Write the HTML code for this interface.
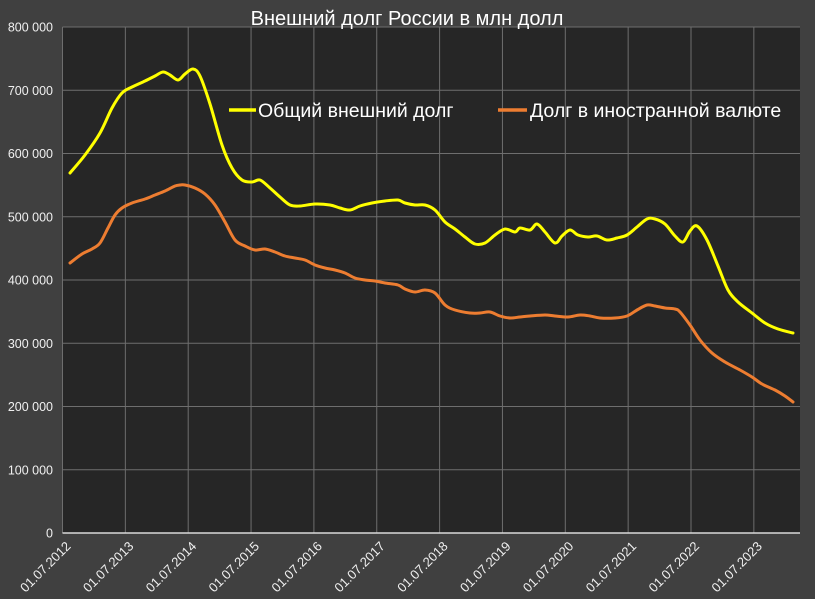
<!DOCTYPE html><html><head><meta charset="utf-8"><style>
body{margin:0;background:#404040;}
svg{display:block;font-family:"Liberation Sans","DejaVu Sans",sans-serif;}
</style></head><body>
<svg id="s" width="815" height="599" viewBox="0 0 815 599">
<rect width="815" height="599" fill="#404040"/>
<rect x="62.5" y="27" width="737.5" height="506" fill="#262626"/>
<g id="grid" stroke="#6e6e6e" stroke-width="1"></g>
<line x1="62.5" y1="533" x2="800" y2="533" stroke="#d9d9d9" stroke-width="1.5"/>
<g id="lab" fill="#f0f0f0" font-size="12.5"></g>
<text x="407" y="25" fill="#ffffff" font-size="20" text-anchor="middle">Внешний долг России в млн долл</text>
<line x1="229" y1="110" x2="256" y2="110" stroke="#ffff00" stroke-width="3.5"/>
<text x="258" y="117" fill="#fff" font-size="19.5">Общий внешний долг</text>
<line x1="498" y1="110" x2="527" y2="110" stroke="#ed7d31" stroke-width="3.5"/>
<text x="530" y="117" fill="#fff" font-size="19.5">Долг в иностранной валюте</text>
<path id="o" fill="none" stroke="#ed7d31" stroke-width="3" stroke-linejoin="round" stroke-linecap="round"/>
<path id="y" fill="none" stroke="#ffff00" stroke-width="3" stroke-linejoin="round" stroke-linecap="round"/>
</svg>
<script>
var ns="http://www.w3.org/2000/svg",g=document.getElementById("grid"),lab=document.getElementById("lab");
function el(t,a,p,txt){var e=document.createElementNS(ns,t);for(var k in a)e.setAttribute(k,a[k]);if(txt!==undefined)e.textContent=txt;p.appendChild(e);return e;}
var yl=["0","100 000","200 000","300 000","400 000","500 000","600 000","700 000","800 000"];
for(var i=0;i<=8;i++){var y=533-i*63.25;if(i>0)el("line",{x1:62.5,y1:y,x2:800,y2:y},g);el("text",{x:53,y:y+4.5,"text-anchor":"end"},lab,yl[i]);}
el("line",{x1:62.5,y1:27,x2:62.5,y2:533},g);
for(var j=0;j<12;j++){var x=62.5+j*62.85;if(j>0)el("line",{x1:x,y1:27,x2:x,y2:533},g);
el("text",{x:0,y:0,"text-anchor":"end","font-size":"13",transform:"translate("+(x+9)+",547) rotate(-45)"},lab,"01.07."+(2012+j));}
function path(p){var d="M"+p[0][0]+","+p[0][1];for(var i=0;i<p.length-1;i++){var a=p[i>0?i-1:0],b=p[i],c=p[i+1],e=p[i+2<p.length?i+2:i+1];
d+=" C"+(b[0]+(c[0]-a[0])/6)+","+(b[1]+(c[1]-a[1])/6)+" "+(c[0]-(e[0]-b[0])/6)+","+(c[1]-(e[1]-b[1])/6)+" "+c[0]+","+c[1];}return d;}
var Y=[[70,173],[85,155],[100,133],[112,108],[122,93],[132,87],[145,81],[155,76],[163,72],[170,75],[178,80],[185,74],[193,69],[200,76],[210,104],[222,145],[232,168],[242,180],[252,182],[260,180],[270,188],[280,197],[290,205],[300,206],[315,204],[330,205],[340,208],[350,210],[360,206],[372,203],[385,201],[398,200],[405,203],[415,205],[425,205],[435,210],[445,222],[455,229],[465,237],[475,244],[485,243],[495,235],[505,229],[515,232],[520,228],[530,230],[537,224],[545,232],[555,243],[562,236],[570,230],[578,235],[588,237],[597,236],[607,240],[617,238],[627,235],[637,227],[647,219],[655,219],[665,224],[675,236],[683,242],[690,231],[697,226],[707,240],[718,266],[728,290],[738,302],[752,313],[765,323],[778,329],[793,333]];
var O=[[70,263],[82,254],[92,249],[100,243],[108,228],[115,215],[122,208],[132,203],[145,199],[155,195],[165,191],[175,186],[180,185],[185,185],[195,188],[205,194],[215,205],[225,222],[235,240],[245,246],[255,250],[265,249],[275,252],[285,256],[295,258],[305,260],[315,265],[325,268],[335,270],[345,273],[355,278],[365,280],[375,281],[385,283],[398,285],[405,289],[415,292],[425,290],[435,293],[445,305],[455,310],[470,313],[480,313],[490,312],[500,316],[510,318],[520,317],[530,316],[545,315],[555,316],[568,317],[580,315],[590,316],[600,318],[615,318],[627,316],[637,310],[647,305],[655,306],[665,308],[675,309],[680,312],[690,325],[700,340],[712,353],[725,362],[740,370],[752,377],[762,384],[775,390],[785,396],[793,402]];
document.getElementById("y").setAttribute("d",path(Y));
document.getElementById("o").setAttribute("d",path(O));
</script>
</body></html>
